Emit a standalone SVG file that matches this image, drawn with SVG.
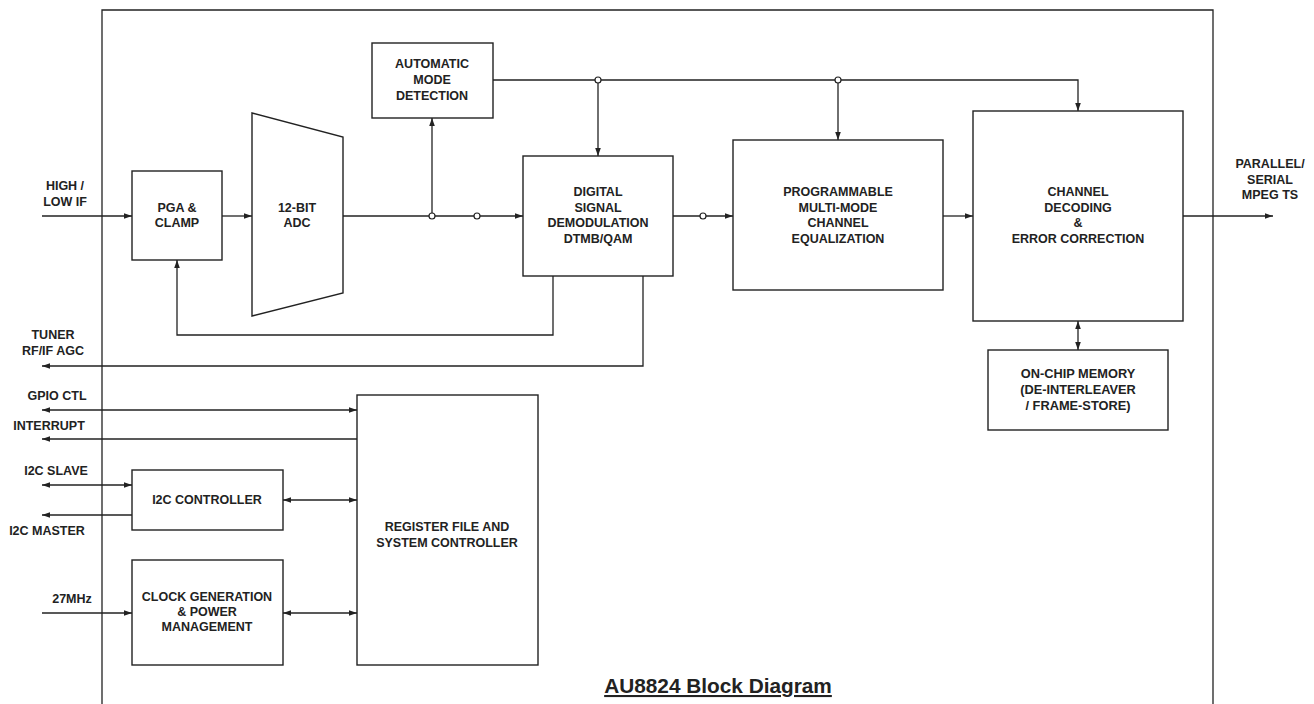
<svg xmlns="http://www.w3.org/2000/svg" width="1314" height="704" viewBox="0 0 1314 704">
<defs>
<style>
.box{fill:#fff;stroke:#222;stroke-width:1.4}
.ln{fill:none;stroke:#222;stroke-width:1.3}
.t{font-family:"Liberation Sans",Arial,sans-serif;font-weight:bold;font-size:12.5px;fill:#222;text-anchor:middle}
.m{font-size:12.8px}
.ttl{font-size:20.8px;text-decoration:underline}
.jn{fill:#fff;stroke:#222;stroke-width:1.2}
</style>
<marker id="ah" viewBox="0 0 10 10" refX="10" refY="5" markerWidth="10" markerHeight="8" markerUnits="userSpaceOnUse" orient="auto-start-reverse">
<path d="M0,1.5 L10,5 L0,8.5 Z" fill="#222"/>
</marker>
</defs>
<rect width="1314" height="704" fill="#fff"/>
<path class="ln" d="M102,704 V10 H1213 V704" stroke-width="1.2"/>

<g id="connectors">
<path class="ln" d="M42,216 H132" marker-end="url(#ah)"/>
<path class="ln" d="M222,216 H252" marker-end="url(#ah)"/>
<path class="ln" d="M343,216 H523" marker-end="url(#ah)"/>
<path class="ln" d="M432,216 V118" marker-end="url(#ah)"/>
<path class="ln" d="M493,80 H1078 V111" marker-end="url(#ah)"/>
<path class="ln" d="M598,80 V156" marker-end="url(#ah)"/>
<path class="ln" d="M838,80 V140" marker-end="url(#ah)"/>
<path class="ln" d="M673,216 H733" marker-end="url(#ah)"/>
<path class="ln" d="M943,216 H973" marker-end="url(#ah)"/>
<path class="ln" d="M1183,216 H1273" marker-end="url(#ah)"/>
<path class="ln" d="M1078,321 V350" marker-start="url(#ah)" marker-end="url(#ah)"/>
<path class="ln" d="M553,276 V335 H177 V260" marker-end="url(#ah)"/>
<path class="ln" d="M643,276 V366 H42" marker-end="url(#ah)"/>
<path class="ln" d="M42,410 H357" marker-start="url(#ah)" marker-end="url(#ah)"/>
<path class="ln" d="M357,439 H42" marker-end="url(#ah)"/>
<path class="ln" d="M42,485 H132" marker-start="url(#ah)" marker-end="url(#ah)"/>
<path class="ln" d="M132,515 H42" marker-end="url(#ah)"/>
<path class="ln" d="M283,500 H357" marker-start="url(#ah)" marker-end="url(#ah)"/>
<path class="ln" d="M42,613 H132" marker-end="url(#ah)"/>
<path class="ln" d="M283,613 H357" marker-start="url(#ah)" marker-end="url(#ah)"/>
<circle class="jn" cx="432" cy="216" r="3"/>
<circle class="jn" cx="477" cy="216" r="3"/>
<circle class="jn" cx="598" cy="80" r="3"/>
<circle class="jn" cx="838" cy="80" r="3"/>
<circle class="jn" cx="703" cy="216" r="3"/>
</g>

<g id="pga">
<rect class="box" x="132" y="171" width="90" height="89"/>
<text class="t" x="177" y="212">PGA &amp;</text>
<text class="t" x="177" y="227">CLAMP</text>
</g>
<g id="adc">
<path class="box" d="M252,113 L343,137 L343,293 L252,316 Z"/>
<text class="t" x="297" y="212">12-BIT</text>
<text class="t" x="297" y="227">ADC</text>
</g>
<g id="amd">
<rect class="box" x="372" y="43" width="121" height="75"/>
<text class="t" x="432" y="68">AUTOMATIC</text>
<text class="t" x="432" y="84">MODE</text>
<text class="t" x="432" y="100">DETECTION</text>
</g>
<g id="dsd">
<rect class="box" x="523" y="156" width="150" height="120"/>
<text class="t" x="598" y="196">DIGITAL</text>
<text class="t" x="598" y="212">SIGNAL</text>
<text class="t" x="598" y="227">DEMODULATION</text>
<text class="t" x="598" y="243">DTMB/QAM</text>
</g>
<g id="peq">
<rect class="box" x="733" y="140" width="210" height="150"/>
<text class="t" x="838" y="196">PROGRAMMABLE</text>
<text class="t" x="838" y="212">MULTI-MODE</text>
<text class="t" x="838" y="227">CHANNEL</text>
<text class="t" x="838" y="243">EQUALIZATION</text>
</g>
<g id="cde">
<rect class="box" x="973" y="111" width="210" height="210"/>
<text class="t" x="1078" y="196">CHANNEL</text>
<text class="t" x="1078" y="212">DECODING</text>
<text class="t" x="1078" y="227">&amp;</text>
<text class="t" x="1078" y="243">ERROR CORRECTION</text>
</g>
<g id="mem">
<rect class="box" x="988" y="350" width="180" height="80"/>
<text class="t m" x="1078" y="378">ON-CHIP MEMORY</text>
<text class="t m" x="1078" y="394">(DE-INTERLEAVER</text>
<text class="t m" x="1078" y="410">/ FRAME-STORE)</text>
</g>
<g id="reg">
<rect class="box" x="357" y="395" width="181" height="270"/>
<text class="t" x="447" y="531">REGISTER FILE AND</text>
<text class="t" x="447" y="547">SYSTEM CONTROLLER</text>
</g>
<g id="i2c">
<rect class="box" x="132" y="470" width="151" height="60"/>
<text class="t" x="207" y="504">I2C CONTROLLER</text>
</g>
<g id="clk">
<rect class="box" x="132" y="560" width="151" height="105"/>
<text class="t" x="207" y="601">CLOCK GENERATION</text>
<text class="t" x="207" y="616">&amp; POWER</text>
<text class="t" x="207" y="631">MANAGEMENT</text>
</g>

<g id="labels">
<text class="t" x="65" y="190">HIGH /</text>
<text class="t" x="65" y="206">LOW IF</text>
<text class="t" x="53" y="339">TUNER</text>
<text class="t" x="53" y="355">RF/IF AGC</text>
<text class="t" x="57" y="400">GPIO CTL</text>
<text class="t" x="49" y="430">INTERRUPT</text>
<text class="t" x="56" y="475">I2C SLAVE</text>
<text class="t" x="47" y="535">I2C MASTER</text>
<text class="t" x="72" y="603">27MHz</text>
<text class="t" x="1270" y="168">PARALLEL/</text>
<text class="t" x="1270" y="184">SERIAL</text>
<text class="t" x="1270" y="199">MPEG TS</text>
</g>
<g id="title">
<text class="t ttl" x="718" y="693">AU8824 Block Diagram</text>
</g>
</svg>
